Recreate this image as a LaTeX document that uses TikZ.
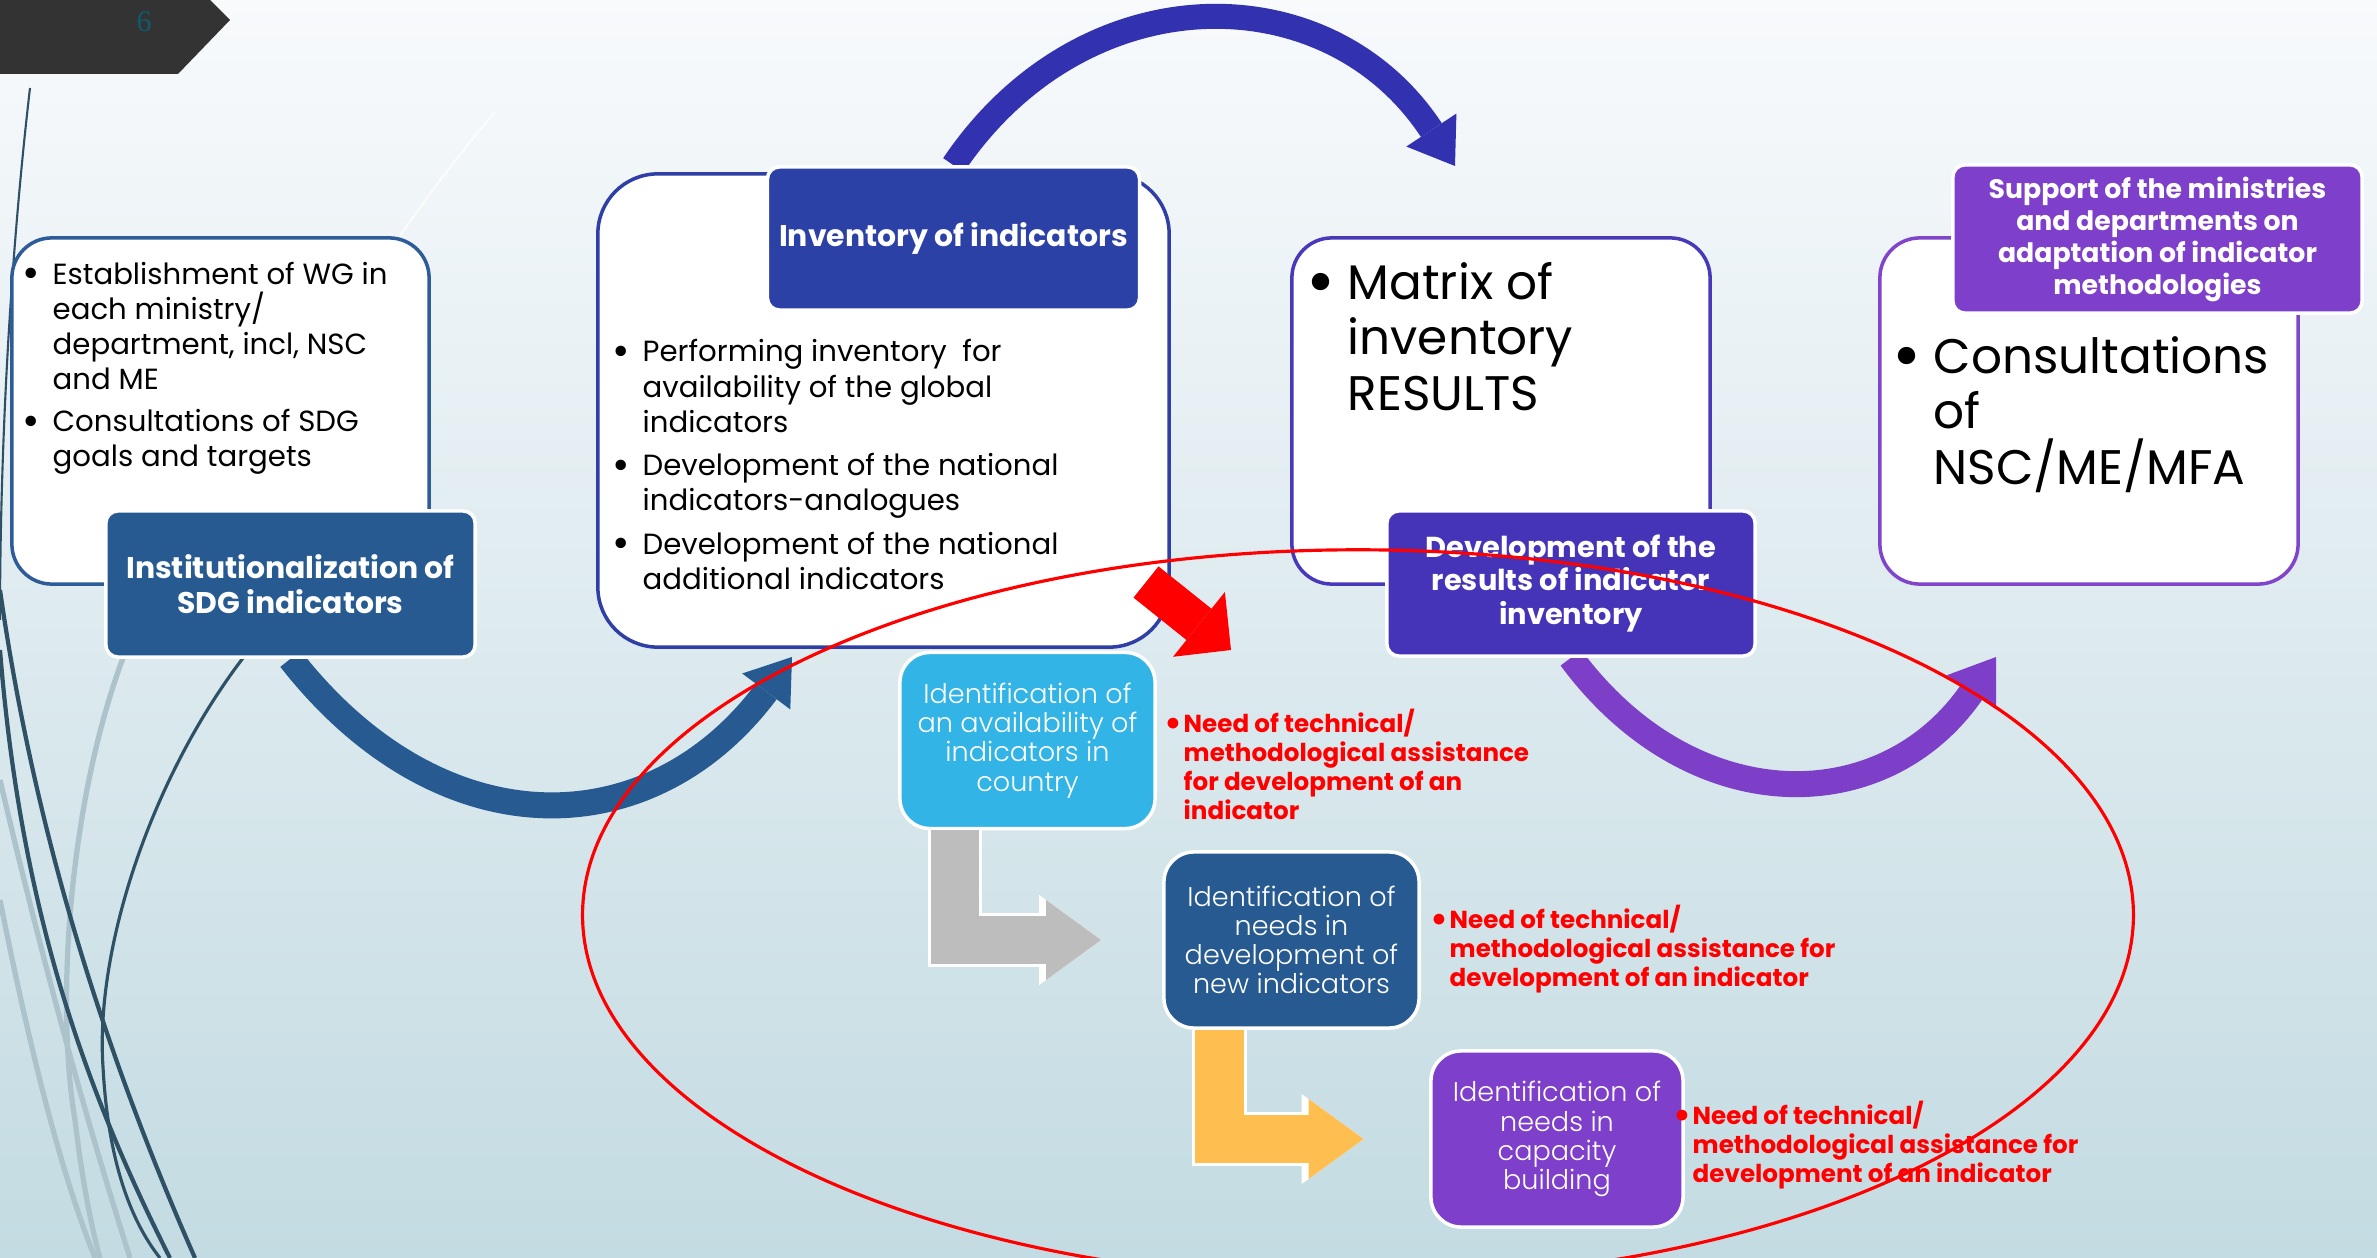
\documentclass[tikz,border=0pt]{standalone}
\usepackage{fontspec}
\setmainfont{Poppins}
\newfontfamily\slidenumfont{Liberation Serif}
\newfontfamily\thinfont{Poppins Light}
\usetikzlibrary{arrows.meta,positioning,backgrounds,calc,shapes.geometric}

\definecolor{bgtop}{HTML}{F8FAFC}
\definecolor{bgmid}{HTML}{DCE8EE}
\definecolor{bgbot}{HTML}{C3DBE2}
\definecolor{tabgray}{HTML}{333333}
\definecolor{numteal}{HTML}{0F5B6E}
\definecolor{darkline}{HTML}{2E5166}
\definecolor{lightline}{HTML}{ADC3CC}
\definecolor{instblue}{HTML}{275A90}
\definecolor{frameA}{HTML}{2E5C99}
\definecolor{invblue}{HTML}{2C41A6}
\definecolor{frameB}{HTML}{2F3FA6}
\definecolor{topblue}{HTML}{3232B0}
\definecolor{devpurple}{HTML}{4533B8}
\definecolor{frameC}{HTML}{4839BB}
\definecolor{suppurple}{HTML}{7E3FCB}
\definecolor{frameD}{HTML}{8045CB}
\definecolor{arcpurple}{HTML}{7D3FC8}
\definecolor{availcyan}{HTML}{33B4E6}
\definecolor{graybody}{HTML}{BDBDBD}
\definecolor{orangebody}{HTML}{FFBE50}
\definecolor{needred}{HTML}{FF0000}

\newcommand{\bigdot}{\raisebox{-0.12em}{\scalebox{1.45}{\textbullet}}}
\newcommand{\bulletmark}{\llap{\bigdot\hspace{3.5pt}}}
\newcommand{\needmark}{\llap{\bigdot\hspace{0.5pt}}}

\begin{document}
\begin{tikzpicture}[x=0.01cm, y=-0.01cm,
    panel/.style={draw, fill=white, rounded corners=0.4cm, line width=1pt, minimum width=4.18cm, minimum height=3.46cm},
    headbox/.style={draw=white, line width=1pt, rounded corners=0.12cm, text=white, align=center, font=\bfseries\fontsize{8.5}{10}\selectfont},
    listtext/.style={anchor=north west, inner sep=0pt, align=left, font=\fontsize{8.3}{10}\selectfont},
    bigtext/.style={anchor=north west, inner sep=0pt, align=left, font=\fontsize{13.8}{15.7}\selectfont},
    stepbox/.style={draw=white, line width=1pt, rounded corners=0.3cm, text=white, align=center, minimum width=2.55cm, minimum height=1.76cm, font=\thinfont\fontsize{7.7}{8.3}\selectfont},
    needtext/.style={anchor=north west, inner sep=0pt, align=left, text=needred, font=\bfseries\fontsize{7}{8.25}\selectfont},
    bigarc/.style={line width=0.26cm, -{Triangle[width=0.6cm, length=0.43cm, line width=0pt]}},
    bentarrow/.style={line width=0.48cm, -{Triangle[width=0.8cm, length=0.55cm, line width=0pt]},
        preaction={draw=white, line width=0.54cm, -{Triangle[width=0.9cm, length=0.62cm, line width=0pt]}}},
    leftline/.style={line width=1.2pt, darkline},
    leftlight/.style={line width=1.5pt, lightline}]

    \useasboundingbox (0,0) rectangle (2377,1258);
    \clip (0,0) rectangle (2377,1258);

    % Background and left curves
    \begin{scope}[on background layer]
    \shade[top color=bgtop, middle color=bgmid, bottom color=bgbot] (0,0) rectangle (2377,1258);
    \draw[white, line width=0.6pt, opacity=0.7] (495,112) .. controls (420,200) and (360,290) .. (300,400);
    \draw[leftlight] (123,658) .. controls (70,800) and (55,1000) .. (75,1120) .. controls (82,1180) and (92,1230) .. (100,1258);
    \draw[leftlight] (0,780) .. controls (40,950) and (80,1100) .. (130,1258);
    \draw[leftlight] (0,900) .. controls (30,1050) and (60,1170) .. (95,1258);
    \draw[leftline, line width=0.6pt] (30,88) .. controls (10,260) and (0,450) .. (0,620);
    \draw[leftline] (0,590) .. controls (30,800) and (90,1020) .. (195,1258);
    \draw[leftline] (0,650) .. controls (20,900) and (80,1080) .. (170,1258);
    \draw[leftline, line width=0.9pt] (243,658) .. controls (150,780) and (95,950) .. (103,1067) .. controls (108,1160) and (130,1220) .. (160,1258);
    \end{scope}

    % Slide tab
    \fill[tabgray] (0,0) -- (210,0) -- (230,20) -- (178,74) -- (0,74) -- cycle;
    \node[text=numteal, font=\slidenumfont\fontsize{8.5}{10}\selectfont] (slidenum) at (144,22) {6};

    % Institutionalization
    \node[panel, draw=frameA, minimum width=4.17cm] (boxA) at (220.5,411) {};
    \node[listtext] (listA) at (52,261) {\bulletmark Establishment of WG in\\each ministry/\\department, incl, NSC\\and ME\\[2pt]\bulletmark Consultations of SDG\\goals and targets};
    \node[headbox, fill=instblue, minimum width=3.69cm, minimum height=1.46cm] (inst) at (290.5,584) {Institutionalization of\\SDG indicators};

    % Inventory
    \node[panel, draw=frameB, rounded corners=0.6cm, minimum width=5.71cm, minimum height=4.73cm] (boxB) at (883.5,410.5) {};
    \node[headbox, fill=invblue, minimum width=3.67cm, minimum height=1.43cm] (inventory) at (953.5,238.5) {Inventory of indicators};
    \node[listtext] (listB) at (642,339) {\bulletmark Performing inventory\ \ for\\availability of the global\\indicators\\[2.3pt]\bulletmark Development of the national\\indicators-analogues\\[2.3pt]\bulletmark Development of the national\\additional indicators};

    % Results
    \node[panel, draw=frameC] (boxC) at (1501,411) {};
    \node[bigtext] (listC) at (1347,262) {\bulletmark Matrix of\\inventory\\RESULTS};
    \node[headbox, fill=devpurple, font=\bfseries\fontsize{8.2}{9.4}\selectfont, minimum width=3.68cm, minimum height=1.45cm] (devres) at (1571,583.5) {Development of the\\results of indicator\\inventory};

    % Support
    \node[panel, draw=frameD] (boxD) at (2089,411) {};
    \node[bigtext] (listD) at (1933,336) {\bulletmark Consultations\\of\\NSC/ME/MFA};
    \node[headbox, fill=suppurple, font=\bfseries\fontsize{7.6}{9.1}\selectfont, minimum width=4.09cm, minimum height=1.44cm] (support) at (2157.5,239) {Support of the ministries\\and departments on\\adaptation of indicator\\methodologies};

    % Curved arrows
    \coordinate (instTip) at (792,657);
    \coordinate (invTip) at (1455,166);
    \coordinate (devTip) at (1996,657);
    \begin{scope}[on background layer]
    \draw[bigarc, instblue] (inst.south) .. controls (440,850) and (650,847) .. (instTip);
    \draw[bigarc, topblue, line width=0.25cm] (inventory.north) .. controls (1083,-27) and (1328,-27) .. (invTip);
    \draw[bigarc, arcpurple] (devres.south) .. controls (1691,820) and (1883,820) .. (devTip);
    \end{scope}

    % Identification steps
    \node[stepbox, fill=availcyan] (avail) at (1027.5,740.5) {Identification of\\an availability of\\indicators in\\country};
    \node[stepbox, fill=instblue] (newind) at (1291.5,940) {Identification of\\needs in\\development of\\new indicators};
    \node[stepbox, fill=suppurple, minimum width=2.52cm] (capac) at (1557,1139) {Identification of\\needs in\\capacity\\building};

    \draw[bentarrow, graybody] ($(avail.south)+(-72.5,0)$) |- ([xshift=-0.61cm]newind.west);
    \draw[bentarrow, orangebody] ($(newind.south)+(-72,0)$) |- ([xshift=-0.655cm]capac.west);

    % Needs
    \node[needtext] (needA) at (1183,708) {\needmark Need of technical/\\methodological assistance\\for development of an\\indicator};
    \node[needtext] (needB) at (1449,904) {\needmark Need of technical/\\methodological assistance for\\development of an indicator};
    \node[needtext] (needC) at (1692,1100) {\needmark Need of technical/\\methodological assistance for\\development of an indicator};

    % Red pointer and focus
    \coordinate (redBack) at (1146,582);
    \coordinate (redTip) at (1231,650);
    \draw[needred, line width=0.4cm, -{Triangle[width=0.83cm, length=0.41cm, line width=0pt]}] (redBack) -- (redTip);
    \node[ellipse, draw=needred, line width=0.9pt, minimum width=15.5cm, minimum height=7.3cm] (focus) at (1358,915) {};

\end{tikzpicture}
\end{document}
